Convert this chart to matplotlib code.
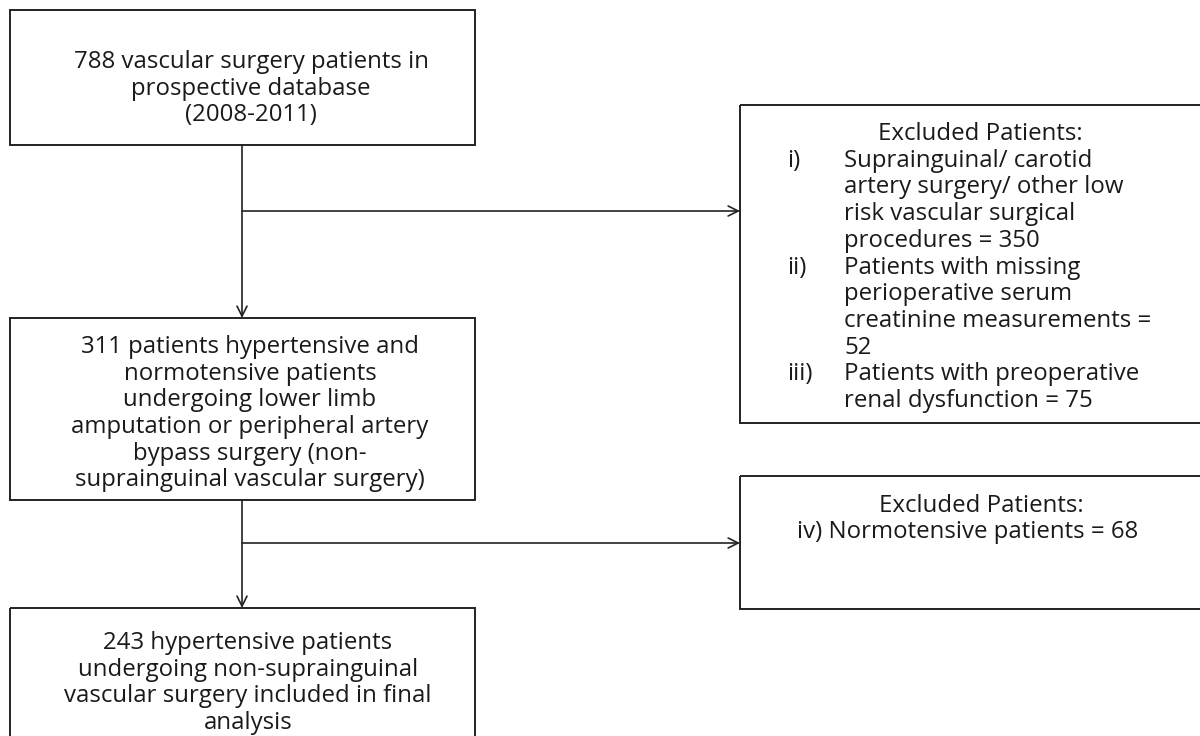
import matplotlib.pyplot as plt
from matplotlib.patches import Rectangle

plt.rcParams['font.family'] = ['Open Sans', 'DejaVu Sans']

# text of each box, one entry per line
top_box = ["788 vascular surgery patients in", "prospective database", "(2008-2011)"]
mid_box = ["311 patients hypertensive and", "normotensive patients",
           "undergoing lower limb", "amputation or peripheral artery",
           "bypass surgery (non-", "suprainguinal vascular surgery)"]
final_box = ["243 hypertensive patients", "undergoing non-suprainguinal",
             "vascular surgery included in final", "analysis"]
excl_title = "Excluded Patients:"
excl1_labels = ["i)", "", "", "", "ii)", "", "", "", "iii)", ""]
excl1_lines = ["Suprainguinal/ carotid", "artery surgery/ other low",
               "risk vascular surgical", "procedures = 350",
               "Patients with missing", "perioperative serum",
               "creatinine measurements =", "52",
               "Patients with preoperative", "renal dysfunction = 75"]
excl2_lines = ["iv) Normotensive patients = 68"]

LH = 26.7
FS = 17.3
TC = '#1a1a1a'

fig = plt.figure(figsize=(12, 7.36), dpi=100)
ax = fig.add_axes([0, 0, 1, 1])
ax.set_xlim(0, 1200)
ax.set_ylim(736, 0)
ax.axis('off')


def box(x0, y0, x1, y1):
    ax.add_patch(Rectangle((x0, y0), x1 - x0, y1 - y0, fill=False,
                           edgecolor='#222222', lw=1.4))


def centered(lines, cx, y0):
    for i, t in enumerate(lines):
        ax.text(cx, y0 + i * LH, t, ha='center', va='baseline',
                fontsize=FS, color=TC)


def arrow(x0, y0, x1, y1):
    ax.annotate('', xy=(x1, y1), xytext=(x0, y0),
                arrowprops=dict(arrowstyle='->', color='#222222', lw=1.2,
                                mutation_scale=18, shrinkA=0, shrinkB=0))


# left column
box(10, 10, 475, 145)
centered(top_box, 251, 68)
box(10, 318, 475, 500)
centered(mid_box, 250, 353)
box(10, 608, 475, 760)
centered(final_box, 248, 649)

# right column
box(740, 105, 1215, 423)
ax.text(980, 140, excl_title, ha='center', va='baseline', fontsize=FS, color=TC)
for i, (lab, t) in enumerate(zip(excl1_labels, excl1_lines)):
    y = 140 + (i + 1) * LH
    ax.text(787, y, lab, ha='left', va='baseline', fontsize=FS, color=TC)
    ax.text(844, y, t, ha='left', va='baseline', fontsize=FS, color=TC)

box(740, 476, 1215, 609)
ax.text(981, 512, excl_title, ha='center', va='baseline', fontsize=FS, color=TC)
centered(excl2_lines, 968, 538)

# connectors
arrow(242, 145, 242, 318)
arrow(242, 211, 740, 211)
arrow(242, 500, 242, 608)
arrow(242, 543, 740, 543)

fig.savefig('out.png', dpi=100, facecolor='white')
